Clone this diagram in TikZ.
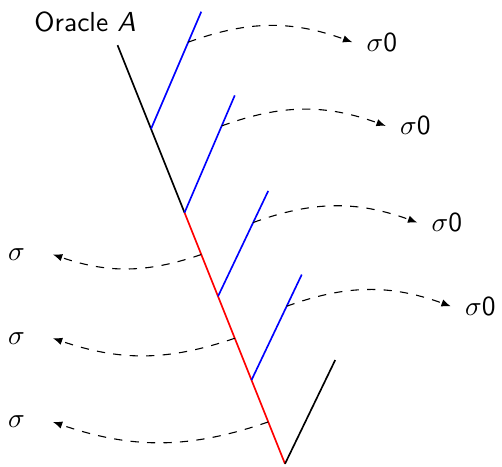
\documentclass[tikz,border=0pt]{standalone}
\usepackage{amsmath,amssymb}
\usepackage{xcolor}
\usepackage{tikz}
\usetikzlibrary{calc,arrows.meta,positioning}
\tikzset{
  br/.style={semithick},
  dar/.style={-{Latex[length=3.4pt,width=2.7pt]},dashed,thin},
  lbl/.style={font=\sffamily,inner sep=2pt}
}
\begin{document}
\begin{tikzpicture}[x=4.28mm,y=4.28mm]
\useasboundingbox (-8.51,-0.09) rectangle (6.48,13.85);
% main line
\coordinate (o) at (0,0);
\coordinate (b4) at (-1,2.5);
\coordinate (b3) at (-2,5);
\coordinate (b2) at (-3,7.5);
\coordinate (b1) at (-4,10);
\coordinate (top) at (-5,12.5);
% leaves
\coordinate (e1) at ($(b1)+(1.5,3.5)$);
\coordinate (e2) at ($(b2)+(1.5,3.5)$);
\coordinate (e3) at ($(b3)+(1.5,3.15)$);
\coordinate (e4) at ($(b4)+(1.5,3.15)$);
\coordinate (e5) at ($(o)+(1.5,3.1)$);
\coordinate (lx) at (-6.93,0);

\draw[br] (top) -- (b2);
\draw[br,red] (b2) -- (o);
\draw[br] (o) -- (e5);
\foreach \i in {1,...,4}
  \draw[br,blue] (b\i) -- (e\i);

\node[lbl] (oracle) at (-5.97,13.19) {Oracle \textit{A}};

% queries answered with sigma0
\foreach \i/\f in {1/0.74,2/0.74,3/0.7,4/0.7}{
  \coordinate (s\i) at ($(b\i)!\f!(e\i)$);
  \coordinate (t\i) at ($(s\i)+(4.9,0)$);
  \draw[dar] (s\i) to[bend left=20] (t\i);
  \node[lbl,right=3pt of t\i] (r\i) {$\sigma$0};
}

% queries on the red path
\foreach \i/\a/\b in {1/b2/b3,2/b3/b4,3/b4/o}{
  \coordinate (m\i) at ($(\a)!0.5!(\b)$);
  \coordinate (u\i) at (m\i -| lx);
  \draw[dar] (m\i) to[bend left=19] (u\i);
  \node[lbl,left=8pt of u\i] (l\i) {$\sigma$};
}
\end{tikzpicture}
\end{document}
